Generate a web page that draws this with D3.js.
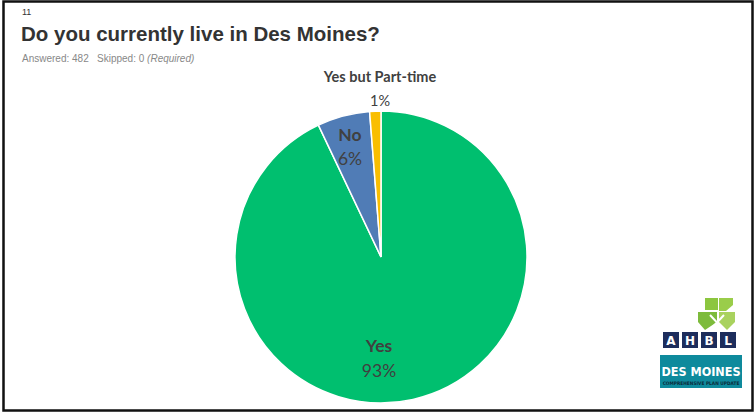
<!DOCTYPE html>
<html><head><meta charset="utf-8">
<script src="https://cdn.jsdelivr.net/npm/d3@7"></script>
<style>body{margin:0;background:#fff}svg{display:block}</style>
</head><body>
<svg id="c" width="755" height="415"></svg>
<script>
const categories = ["Yes", "No", "Yes but Part-time"];
const counts = [448, 28, 6];
const percentLabels = ["93%", "6%", "1%"];
const colors = ["#00BF6F", "#507CB6", "#F9BE00"];

const svg = d3.select("#c");
svg.append("rect").attr("x",3.5).attr("y",1.5).attr("width",749).attr("height",409)
  .attr("fill","#fff").attr("stroke","#111").attr("stroke-width",2.5);

svg.append("text").attr("x",22).attr("y",15).attr("font-family","Liberation Sans, Arial").attr("font-size",9).attr("fill","#333").text("11");
svg.append("text").attr("x",21).attr("y",41).attr("font-family","Liberation Sans, Arial").attr("font-weight","bold").attr("font-size",20.5).attr("fill","#333").text("Do you currently live in Des Moines?");
const sub = svg.append("text").attr("x",22).attr("y",62).attr("font-family","Liberation Sans, Arial").attr("font-size",10).attr("fill","#888");
sub.append("tspan").text("Answered: 482\u00a0\u00a0 Skipped: 0 ");
sub.append("tspan").attr("font-style","italic").text("(Required)");

const cx = 381, cy = 257, r = 146;
const pie = d3.pie().sort(null).value(d => d)(counts);
const arc = d3.arc().innerRadius(0).outerRadius(r);
const g = svg.append("g").attr("transform",`translate(${cx},${cy})`);
g.selectAll("path").data(pie).join("path")
  .attr("d", arc).attr("fill",(d,i)=>colors[i]).attr("stroke","#fff").attr("stroke-width",1.5);

const font = "Lato, Open Sans, sans-serif";
const labelPos = [[cx-2, 352, 377],[350, 141, 165],[380, 82, 106]];
categories.forEach((c,i)=>{
  const [x,y1,y2] = labelPos[i];
  svg.append("text").attr("x",x).attr("y",y1).attr("text-anchor","middle").attr("font-family",font)
    .attr("font-weight","bold").attr("font-size", i===2?14.5:17.5).attr("fill","#404040").text(c);
  svg.append("text").attr("x",x).attr("y",y2).attr("text-anchor","middle").attr("font-family",font)
    .attr("font-size", i===2?14.5:17.5).attr("fill","#404040").text(percentLabels[i]);
});

// logos
const lg = svg.append("g");
lg.append("path").attr("d","M705 298 L718 298 L718 310 L705 310 Z").attr("fill","#8CC63F");
lg.append("path").attr("d","M719 298 L733 298 L733 305 L726 311 L719 311 Z").attr("fill","#9ACD4A");
lg.append("path").attr("d","M698 312 L717 312 L717 322 L705 330 L698 322 Z").attr("fill","#7DBB3C");
lg.append("path").attr("d","M719 312 L735 312 L735 322 L727 330 L719 322 Z").attr("fill","#A9D25E");
lg.append("path").attr("d","M710 315 L724 330 M724 315 L710 330").attr("stroke","#fff").attr("stroke-width",2);
["A","H","B","L"].forEach((t,i)=>{
  const x = 663 + i*19;
  lg.append("rect").attr("x",x).attr("y",332).attr("width",16).attr("height",16).attr("fill","#1D2D5C");
  lg.append("text").attr("x",x+8).attr("y",345).attr("text-anchor","middle").attr("font-family","DejaVu Sans").attr("font-weight","bold").attr("font-size",12).attr("fill","#fff").text(t);
});
lg.append("rect").attr("x",660).attr("y",355).attr("width",82).attr("height",33).attr("fill","#0E8A9C");
lg.append("text").attr("x",701).attr("y",376).attr("text-anchor","middle").attr("font-family","DejaVu Sans Condensed, DejaVu Sans").attr("font-weight","bold").attr("font-size",12.5).attr("fill","#fff").text("DES MOINES");
lg.append("text").attr("x",701).attr("y",385).attr("text-anchor","middle").attr("font-family","DejaVu Sans Condensed, DejaVu Sans").attr("font-weight","bold").attr("font-size",4.8).attr("fill","#0A2A3A").text("COMPREHENSIVE PLAN UPDATE");
</script>
</body></html>
